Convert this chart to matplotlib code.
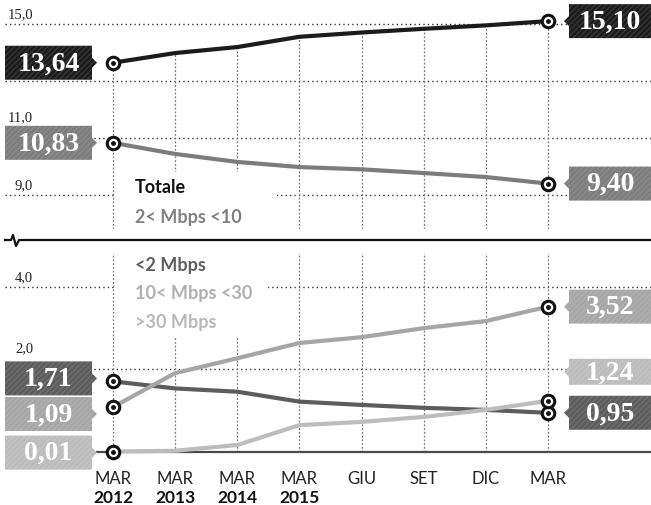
import matplotlib.pyplot as plt
from matplotlib.patches import Polygon, Rectangle
from matplotlib.lines import Line2D
from matplotlib.transforms import IdentityTransform

# --- dati ---
months = ["MAR", "MAR", "MAR", "MAR", "GIU", "SET", "DIC", "MAR"]
years = ["2012", "2013", "2014", "2015"]
x = list(range(len(months)))

totale = [13.64, 13.98, 14.19, 14.55, 14.70, 14.83, 14.95, 15.10]
mbps_2_10 = [10.83, 10.44, 10.16, 9.98, 9.90, 9.77, 9.63, 9.40]
mbps_lt2 = [1.71, 1.54, 1.46, 1.22, 1.14, 1.07, 1.02, 0.95]
mbps_10_30 = [1.09, 1.91, 2.27, 2.64, 2.78, 3.00, 3.17, 3.52]
mbps_gt30 = [0.01, 0.03, 0.17, 0.65, 0.73, 0.85, 1.02, 1.24]

top_ticks = [9.0, 11.0, 13.0, 15.0]
top_tick_labels = ["9,0", "11,0", "", "15,0"]
bot_ticks = [2.0, 4.0]
bot_tick_labels = ["2,0", "4,0"]

first_labels = ["13,64", "10,83", "1,71", "1,09", "0,01"]
last_labels = ["15,10", "9,40", "0,95", "3,52", "1,24"]

C_TOT = "#1b1b1b"
C_2_10 = "#7c7c7c"
C_LT2 = "#5c5c5c"
C_10_30 = "#a6a6a6"
C_GT30 = "#bcbcbc"

W, H = 651, 505
fig = plt.figure(figsize=(W / 100, H / 100), dpi=100)
fig.patch.set_facecolor("white")

XL = (-1.738, 8.658)
# pannello superiore: pixel 10..229, pannello inferiore: pixel 248..458
ax_top = fig.add_axes([5 / W, 1 - 229 / H, 646 / W, 219 / H])
ax_bot = fig.add_axes([5 / W, 1 - 458 / H, 646 / W, 210 / H])
ax_top.set_xlim(*XL)
ax_bot.set_xlim(*XL)
ax_top.set_ylim(7.807, 15.49)
ax_bot.set_ylim(-0.145, 4.94)

for ax in (ax_top, ax_bot):
    for s in ax.spines.values():
        s.set_visible(False)
    ax.set_yticks([])
    ax.patch.set_alpha(0)

ax_top.set_xticks([])

hgrid = dict(color="#333333", lw=1.0, linestyle=(0, (1, 2.2)), zorder=1)
vgrid = dict(colors="#7a7a7a", lw=0.9, linestyles=(0, (1.5, 1.5)), zorder=1)

for t in top_ticks:
    ax_top.axhline(t, **hgrid)
for t in bot_ticks:
    ax_bot.axhline(t, **hgrid)

ax_top.vlines(x, 7.807, totale, **vgrid)
ax_bot.vlines(x, 0, 4.82, **vgrid)

# linea di base
ax_bot.plot([-0.26, XL[1]], [0, 0], color="#4a4a4a", lw=1.6, zorder=2)

# sfondo bianco delle legende
ax_top.add_patch(Rectangle((0.05, 7.807), 2.59, 9.81 - 7.807, facecolor="white",
                           edgecolor="none", zorder=3))
ax_bot.add_patch(Rectangle((0.05, 2.76), 2.44, 4.94 - 2.76, facecolor="white",
                           edgecolor="none", zorder=3))

series_top = [(totale, C_TOT), (mbps_2_10, C_2_10)]
series_bot = [(mbps_lt2, C_LT2), (mbps_10_30, C_10_30), (mbps_gt30, C_GT30)]

for ax, series in ((ax_top, series_top), (ax_bot, series_bot)):
    for vals, col in series:
        ax.plot(x, vals, color=col, lw=3.0, solid_capstyle="round", zorder=4)
        for i in (0, len(x) - 1):
            ax.plot(x[i], vals[i], marker="o", ms=9, mfc="white", mec="#111111",
                    mew=2.2, zorder=6, clip_on=False)
            ax.plot(x[i], vals[i], marker="o", ms=2.5, mfc="#111111", mec="#111111",
                    zorder=7, clip_on=False)

# etichette asse y (alcune alzate sopra i riquadri)
lift = {"11,0": 11, "2,0": 11}
for ax, ticks, labels in ((ax_top, top_ticks, top_tick_labels),
                          (ax_bot, bot_ticks, bot_tick_labels)):
    for t, lab in zip(ticks, labels):
        if lab:
            ax.annotate(lab, xy=(-1.285, t), xytext=(0, 3 + lift.get(lab, 0)),
                        textcoords="offset pixels", ha="right", va="bottom",
                        fontsize=10.5, color="#222222",
                        family="Liberation Serif", zorder=5)

# legende
leg_kw = dict(family="Lato", fontweight="bold", fontsize=13, ha="left", va="center",
              zorder=8)
ax_top.text(0.35, 15 - (188 - 24) / 28.5, "Totale", color="#111111", **leg_kw)
ax_top.text(0.35, 15 - (218 - 24) / 28.5, "2< Mbps <10", color="#808080", **leg_kw)
ax_bot.text(0.35, (452 - 265) / 41.3, "<2 Mbps", color="#5e5e5e", **leg_kw)
ax_bot.text(0.35, (452 - 293) / 41.3, "10< Mbps <30", color="#b0b0b0", **leg_kw)
ax_bot.text(0.35, (452 - 322) / 41.3, ">30 Mbps", color="#b8b8b8", **leg_kw)

# asse x
ax_bot.set_xticks(x)
ax_bot.set_xticklabels(months, family="Lato", fontsize=12, color="#222222")
ax_bot.tick_params(axis="x", length=0, pad=9)
for i, yr in enumerate(years):
    ax_bot.text(x[i], -0.19, yr, transform=ax_bot.get_xaxis_transform(),
                ha="center", va="center", family="Lato", fontweight="bold",
                fontsize=12.5, color="#111111")

# linea di interruzione
brk_x = [5, 11, 13, 16, 19, 651]
brk_y = [240, 240, 235, 246, 240, 240]
fig.add_artist(Line2D([v / W for v in brk_x], [1 - v / H for v in brk_y],
                      transform=fig.transFigure, color="#111111", lw=1.6))


def value_box(ax, xi, yv, text, color, side, dy=0, h=34):
    px, py = ax.transData.transform((xi, yv))
    cy = py - dy
    if side == "left":
        x0, x1 = px - 108, px - 21
        verts = [(x0, cy - h / 2), (x0, cy + h / 2), (x1, cy + h / 2),
                 (x1, cy + 5), (px - 16, cy), (x1, cy - 5), (x1, cy - h / 2)]
    else:
        x0, x1 = px + 21, px + 103
        verts = [(x1, cy - h / 2), (x1, cy + h / 2), (x0, cy + h / 2),
                 (x0, cy + 5), (px + 16, cy), (x0, cy - 5), (x0, cy - h / 2)]
    poly = Polygon(verts, closed=True, facecolor=color, lw=0, hatch="//////",
                   transform=IdentityTransform(), zorder=9)
    poly.set_edgecolor((1, 1, 1, 0.12))
    fig.add_artist(poly)
    fig.text((x0 + x1) / 2 / W, (cy - 1) / H, text, transform=fig.transFigure,
             ha="center", va="center", color="white", fontsize=20,
             family="Liberation Serif", fontweight="bold", zorder=10)


value_box(ax_top, x[0], totale[0], first_labels[0], C_TOT, "left")
value_box(ax_top, x[0], mbps_2_10[0], first_labels[1], C_2_10, "left")
value_box(ax_bot, x[0], mbps_lt2[0], first_labels[2], C_LT2, "left", dy=-3)
value_box(ax_bot, x[0], mbps_10_30[0], first_labels[3], C_10_30, "left", dy=7)
value_box(ax_bot, x[0], mbps_gt30[0], first_labels[4], C_GT30, "left", dy=1)

value_box(ax_top, x[-1], totale[-1], last_labels[0], C_TOT, "right")
value_box(ax_top, x[-1], mbps_2_10[-1], last_labels[1], C_2_10, "right")
value_box(ax_bot, x[-1], mbps_lt2[-1], last_labels[2], C_LT2, "right")
value_box(ax_bot, x[-1], mbps_10_30[-1], last_labels[3], C_10_30, "right")
value_box(ax_bot, x[-1], mbps_gt30[-1], last_labels[4], C_GT30, "right", dy=-29, h=26)

fig.savefig("out.png", dpi=100, facecolor="white")
